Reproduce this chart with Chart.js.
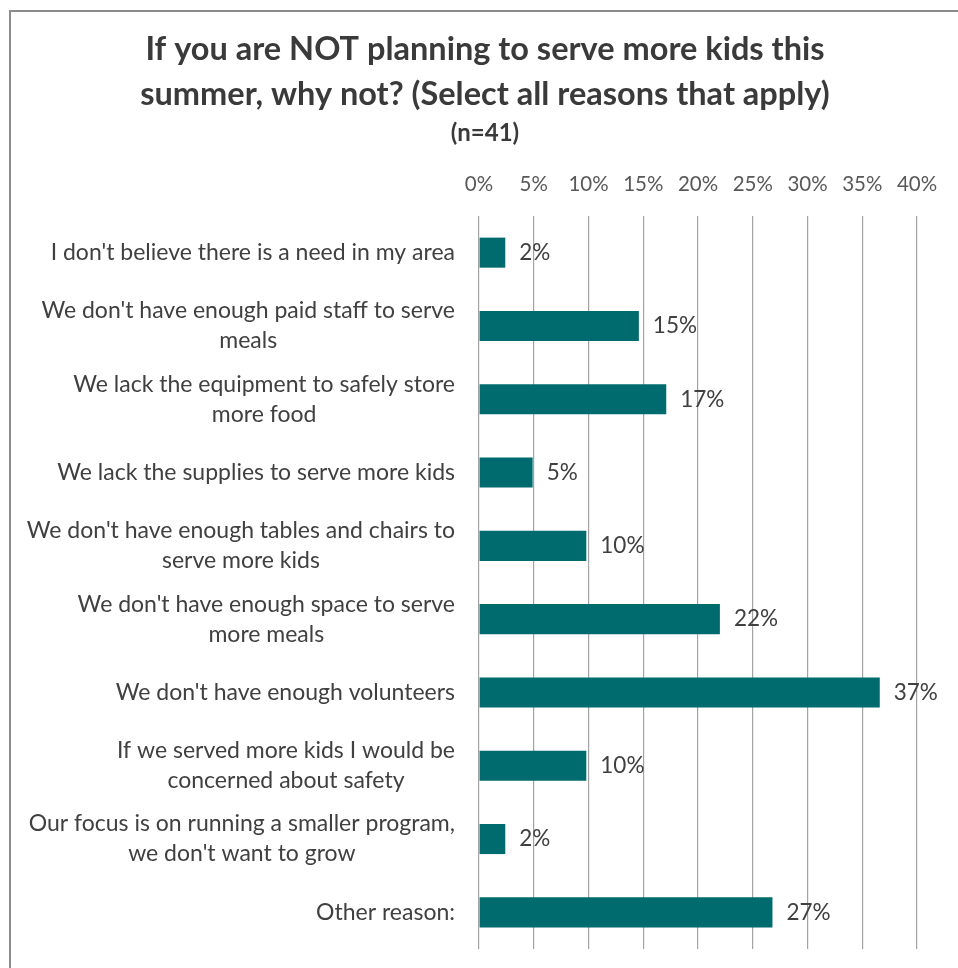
<!DOCTYPE html>
<html>
<head>
<meta charset="utf-8">
<script src="https://cdn.jsdelivr.net/npm/chart.js@4.4.1/dist/chart.umd.min.js"></script>
<style>
  html, body { margin: 0; padding: 0; overflow: hidden; background: #fff; }
  #frame { position: absolute; left: 9px; top: 10px; width: 1200px; height: 1200px;
           border-left: 2px solid #8c8c8c; border-top: 2px solid #8c8c8c; }
  #wrap { position: absolute; left: 0; top: 0; width: 958px; height: 968px; }
</style>
</head>
<body>
<div id="frame"></div>
<div id="wrap"><canvas id="graficoRazones"></canvas></div>
<script>
// survey reasons (n=41), values in percent
const razones = [
    ["I don't believe there is a need in my area"],
    ["We don't have enough paid staff to serve", "meals"],
    ["We lack the equipment to safely store", "more food"],
    ["We lack the supplies to serve more kids"],
    ["We don't have enough tables and chairs to", "serve more kids"],
    ["We don't have enough space to serve", "more meals"],
    ["We don't have enough volunteers"],
    ["If we served more kids I would be", "concerned about safety"],
    ["Our focus is on running a smaller program,", "we don't want to grow"],
    ["Other reason:"]
];
const porcentajes = [2.4, 14.6, 17.1, 4.9, 9.8, 22.0, 36.6, 9.8, 2.4, 26.8];
const ticksX = [0, 5, 10, 15, 20, 25, 30, 35, 40];

const titulo = ['If you are NOT planning to serve more kids this', 'summer, why not? (Select all reasons that apply)'];
const subtitulo = '(n=41)';

const textColor = '#404040';
const fontFamily = 'Lato, "Open Sans", sans-serif';

// category labels: right aligned block, lines centered to each other
const etiquetasPlugin = {
    id: 'etiquetas',
    afterDraw(chart) {
        const ctx = chart.ctx;
        const y = chart.scales.y;
        const rightX = 455;
        const lh = 30;
        ctx.save();
        ctx.font = '23px ' + fontFamily;
        ctx.fillStyle = textColor;
        ctx.textAlign = 'center';
        ctx.textBaseline = 'middle';
        razones.forEach((lines, i) => {
            const widest = Math.max(...lines.map(l => ctx.measureText(l).width));
            const cx = rightX - widest / 2;
            const cy = y.getPixelForValue(i);
            lines.forEach((l, j) => {
                ctx.fillText(l, cx, cy + (j - (lines.length - 1) / 2) * lh);
            });
        });
        ctx.restore();
    }
};

// value labels next to the bars
const valoresPlugin = {
    id: 'valores',
    afterDatasetsDraw(chart) {
        const ctx = chart.ctx;
        const meta = chart.getDatasetMeta(0);
        ctx.save();
        ctx.font = '22.5px ' + fontFamily;
        ctx.fillStyle = textColor;
        ctx.textAlign = 'left';
        ctx.textBaseline = 'middle';
        meta.data.forEach((bar, i) => {
            ctx.fillText(Math.round(porcentajes[i]) + '%', bar.x + 14, bar.y);
        });
        ctx.restore();
    }
};

const ctx = document.getElementById('graficoRazones').getContext('2d');
new Chart(ctx, {
    type: 'bar',
    data: {
        labels: razones,
        datasets: [{
            data: porcentajes,
            backgroundColor: '#006b6e',
            borderWidth: 0,
            barPercentage: 0.41,
            categoryPercentage: 1
        }]
    },
    options: {
        indexAxis: 'y',
        responsive: true,
        maintainAspectRatio: false,
        animation: false,
        layout: { padding: { left: 53, right: 41, top: 0, bottom: 19 } },
        plugins: {
            legend: { display: false },
            tooltip: { enabled: false },
            title: {
                display: true,
                text: titulo,
                color: '#3a3a3a',
                font: { family: fontFamily, size: 32.5, weight: 'bold', lineHeight: 45 / 32.5 },
                padding: { top: 27.5, bottom: 0 }
            },
            subtitle: {
                display: true,
                text: subtitulo,
                color: '#3a3a3a',
                font: { family: fontFamily, size: 24, weight: 'bold', lineHeight: 27.6 / 24 },
                padding: { top: 1.7, bottom: 0 }
            }
        },
        scales: {
            x: {
                position: 'top',
                min: 0,
                max: 40,
                afterBuildTicks: scale => { scale.ticks = ticksX.map(v => ({ value: v })); },
                afterFit: scale => { scale.height = 69.2; },
                ticks: {
                    color: '#595959',
                    padding: 20,
                    font: { family: fontFamily, size: 20.5, lineHeight: 24 / 20.5 },
                    callback: v => v + '%'
                },
                grid: { color: '#a3a3a3', lineWidth: 1.2, drawTicks: false },
                border: { display: false }
            },
            y: {
                afterFit: scale => { scale.width = 426; },
                ticks: { display: false },
                grid: { display: false },
                border: { display: false }
            }
        }
    },
    plugins: [etiquetasPlugin, valoresPlugin]
});
</script>
</body>
</html>
